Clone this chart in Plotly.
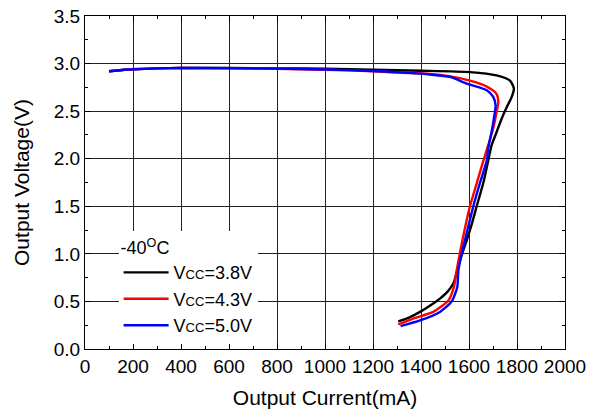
import plotly.graph_objects as go

# Output current (mA) / output voltage (V)
cur_38 = [100, 200, 300, 400, 600, 800, 1000, 1200, 1400, 1604, 1715, 1771, 1787, 1778, 1757, 1736, 1715,
          1694, 1680, 1660, 1632, 1610, 1590, 1562, 1548, 1535, 1510, 1479, 1440, 1396, 1350, 1305]
vol_38 = [2.92, 2.94, 2.95, 2.953, 2.953, 2.95, 2.945, 2.935, 2.925, 2.91, 2.875, 2.82, 2.74, 2.65, 2.54, 2.42, 2.28,
          2.14, 1.98, 1.75, 1.50, 1.30, 1.14, 0.93, 0.80, 0.69, 0.60, 0.53, 0.46, 0.39, 0.33, 0.29]

cur_43 = [100, 200, 300, 400, 600, 800, 1000, 1200, 1300, 1437, 1521, 1604, 1680, 1715, 1722, 1715, 1701,
          1680, 1660, 1632, 1604, 1570, 1549, 1537, 1514, 1451, 1368, 1305]
vol_43 = [2.92, 2.94, 2.95, 2.953, 2.95, 2.945, 2.935, 2.92, 2.905, 2.89, 2.865, 2.82, 2.75, 2.68, 2.595, 2.49, 2.32,
          2.14, 1.98, 1.74, 1.50, 1.11, 0.83, 0.65, 0.51, 0.39, 0.32, 0.26]

cur_50 = [100, 200, 300, 400, 600, 800, 1000, 1200, 1300, 1437, 1521, 1590, 1674, 1701, 1711, 1706, 1694,
          1680, 1674, 1645, 1618, 1576, 1556, 1551, 1528, 1479, 1396, 1315]
vol_50 = [2.92, 2.94, 2.95, 2.953, 2.952, 2.947, 2.938, 2.922, 2.91, 2.885, 2.86, 2.79, 2.72, 2.65, 2.56, 2.46, 2.28,
          2.11, 1.98, 1.74, 1.50, 1.07, 0.83, 0.65, 0.50, 0.39, 0.30, 0.24]

series_names = ["V<span style='font-size:13px'>CC</span>=3.8V",
                "V<span style='font-size:13px'>CC</span>=4.3V",
                "V<span style='font-size:13px'>CC</span>=5.0V"]
series_colors = ["#000000", "#ff0000", "#0000ff"]
x_ticks = list(range(0, 2001, 200))
y_ticks = [0.0, 0.5, 1.0, 1.5, 2.0, 2.5, 3.0, 3.5]

FONT = "Liberation Sans, Arial, sans-serif"

fig = go.Figure()
for xs, ys, name, col in zip([cur_38, cur_43, cur_50], [vol_38, vol_43, vol_50], series_names, series_colors):
    fig.add_trace(go.Scatter(x=xs, y=ys, mode="lines", name=name,
                             line=dict(color=col, width=2.4, shape="spline", smoothing=0.6)))

axis_common = dict(showline=True, linecolor="black", linewidth=1, mirror="allticks",
                   ticks="inside", ticklen=6, tickcolor="black", automargin=False,
                   showgrid=True, gridcolor="#222222", gridwidth=1.2, zeroline=False,
                   tickfont=dict(family=FONT, size=19, color="black"))

fig.update_layout(
    width=590, height=417,
    margin=dict(l=85, r=25, t=16, b=68),
    plot_bgcolor="white", paper_bgcolor="white",
    font=dict(family=FONT, color="black"),
    xaxis=dict(range=[0, 2000], tickvals=x_ticks, ticktext=[str(v) for v in x_ticks],
               minor=dict(ticks="inside", ticklen=3, dtick=100, tickcolor="black", showgrid=False),
               title=dict(text="Output Current(mA)", font=dict(family=FONT, size=21), standoff=14),
               **axis_common),
    yaxis=dict(range=[0, 3.5], tickvals=y_ticks, ticktext=[f"{v:.1f}" for v in y_ticks],
               minor=dict(ticks="inside", ticklen=3, dtick=0.25, tickcolor="black", showgrid=False),
               title=dict(text="Output Voltage(V)", font=dict(family=FONT, size=21), standoff=18),
               **axis_common),
    legend=dict(x=0.07, y=0.355, xanchor="left", yanchor="top",
                bgcolor="white", borderwidth=0, itemwidth=45,
                title=dict(text="-40<sup>O</sup>C", font=dict(family=FONT, size=18)),
                font=dict(family=FONT, size=18), tracegroupgap=0),
    showlegend=True,
)

fig.write_html("out.html")
